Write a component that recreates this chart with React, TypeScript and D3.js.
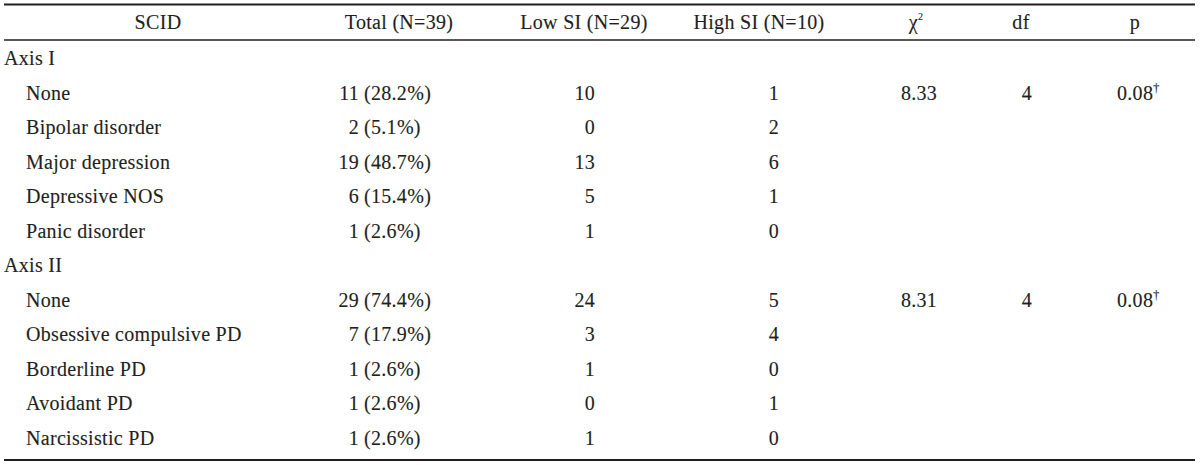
import React from "react";
import * as d3 from "d3";

const headers = ["SCID", "Total (N=39)", "Low SI (N=29)", "High SI (N=10)", "χ", "df", "p"];
const rowLabels = [
  "Axis I", "None", "Bipolar disorder", "Major depression", "Depressive NOS", "Panic disorder",
  "Axis II", "None", "Obsessive compulsive PD", "Borderline PD", "Avoidant PD", "Narcissistic PD",
];
const isGroup = [true, false, false, false, false, false, true, false, false, false, false, false];
const totalCounts: (number | null)[] = [null, 11, 2, 19, 6, 1, null, 29, 7, 1, 1, 1];
const totalPct: (string | null)[] = [null, "28.2", "5.1", "48.7", "15.4", "2.6", null, "74.4", "17.9", "2.6", "2.6", "2.6"];
const lowSI: (number | null)[] = [null, 10, 0, 13, 5, 1, null, 24, 3, 1, 0, 1];
const highSI: (number | null)[] = [null, 1, 2, 6, 1, 0, null, 5, 4, 0, 1, 0];
const chiSq: (string | null)[] = [null, "8.33", null, null, null, null, null, "8.31", null, null, null, null];
const dfVals: (number | null)[] = [null, 4, null, null, null, null, null, 4, null, null, null, null];
const pVals: (string | null)[] = [null, "0.08", null, null, null, null, null, "0.08", null, null, null, null];

const W = 1200;
const H = 465;
const FONT = "Liberation Serif";
const FS = 20;
const LS = 0.3;
const COLOR = "#231f20";

export default function App() {
  const y = d3.scaleLinear().domain([0, rowLabels.length - 1]).range([65, 445]);
  const headerY = 29;
  const hx = [158, 399, 584, 759, 916, 1021, 1135];
  const textProps = {
    fontFamily: FONT, fontSize: FS, fill: COLOR, letterSpacing: LS,
    stroke: COLOR, strokeWidth: 0.12,
  };

  return (
    <svg width={W} height={H} style={{ position: "absolute", left: 0, top: 0, background: "#fff" }}>
      <rect x={0} y={0} width={W} height={H} fill="#fff" />
      <line x1={4} x2={1195} y1={4.5} y2={4.5} stroke="#231f20" strokeWidth={2} />
      <line x1={4} x2={1195} y1={40} y2={40} stroke="#231f20" strokeWidth={1.5} />
      <line x1={4} x2={1195} y1={460} y2={460} stroke="#231f20" strokeWidth={2} />
      {headers.map((h, i) => (
        <text key={"h" + i} x={hx[i]} y={headerY} textAnchor="middle" {...textProps}>
          {h}
          {i === 4 ? <tspan fontSize={10} dy={-9}>2</tspan> : null}
        </text>
      ))}
      {rowLabels.map((lab, i) => (
        <g key={"r" + i}>
          <text x={isGroup[i] ? 4 : 26} y={y(i)} {...textProps}>{lab}</text>
          {totalCounts[i] !== null && (
            <>
              <text x={359} y={y(i)} textAnchor="end" {...textProps}>{totalCounts[i]}</text>
              <text x={364} y={y(i)} {...textProps}>({totalPct[i]}%)</text>
            </>
          )}
          {lowSI[i] !== null && (
            <text x={595} y={y(i)} textAnchor="end" {...textProps}>{lowSI[i]}</text>
          )}
          {highSI[i] !== null && (
            <text x={779} y={y(i)} textAnchor="end" {...textProps}>{highSI[i]}</text>
          )}
          {chiSq[i] !== null && (
            <text x={919} y={y(i)} textAnchor="middle" {...textProps}>{chiSq[i]}</text>
          )}
          {dfVals[i] !== null && (
            <text x={1027} y={y(i)} textAnchor="middle" {...textProps}>{dfVals[i]}</text>
          )}
          {pVals[i] !== null && (
            <text x={1117} y={y(i)} {...textProps}>
              {pVals[i]}
              <tspan fontSize={12} dy={-8}>†</tspan>
            </text>
          )}
        </g>
      ))}
    </svg>
  );
}
